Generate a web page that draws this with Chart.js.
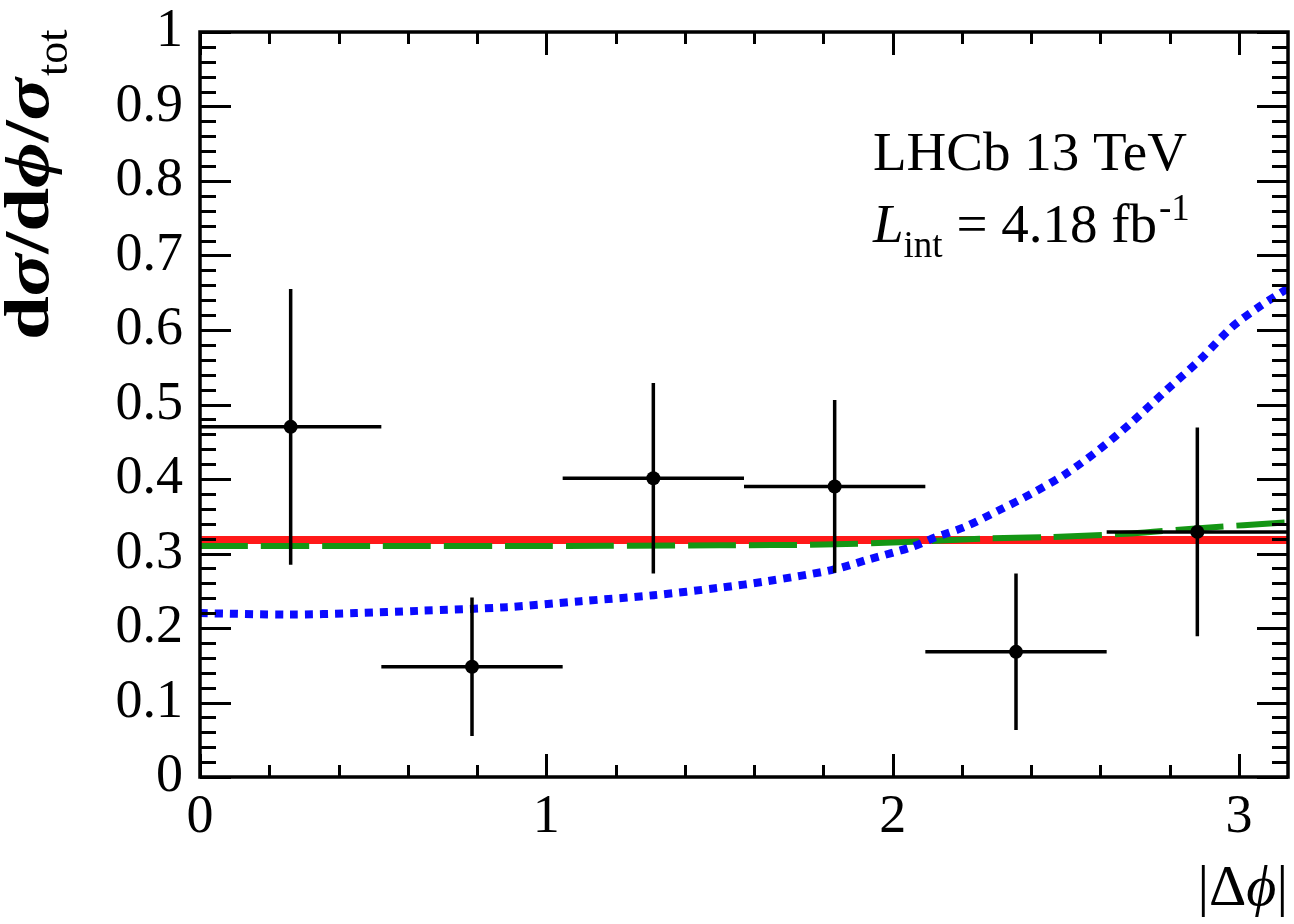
<!DOCTYPE html>
<html>
<head>
<meta charset="utf-8">
<title>dsigma/dphi</title>
<script src="https://cdn.jsdelivr.net/npm/chart.js@4.4.1/dist/chart.umd.min.js"></script>
<style>
  html, body { margin: 0; padding: 0; background: #fff; }
  #plot { display: block; }
</style>
</head>
<body>
<canvas id="plot" width="1294" height="924"></canvas>
<script>
// measured points, one per pi/6 bin in |dphi|
const binCenters = [0.2618, 0.7854, 1.3090, 1.8326, 2.3562, 2.8798];
const binHalfWidth = [0.2618, 0.2618, 0.2618, 0.2618, 0.2618, 0.2618];
const dataY = [0.470, 0.148, 0.401, 0.390, 0.168, 0.329];
const dataErr = [0.185, 0.093, 0.128, 0.116, 0.105, 0.140];

// model curves
const redX = [0, 0.8, 1.6, 2.4, 3.1416];
const redY = [0.318, 0.318, 0.318, 0.318, 0.318];

const greenX = [0, 0.5, 1.0, 1.5, 1.8, 2.02, 2.26, 2.45, 2.69, 2.885, 3.1416];
const greenY = [0.310, 0.310, 0.310, 0.311, 0.312, 0.315, 0.320, 0.322, 0.327, 0.334, 0.342];

const blueX = [0, 0.26, 0.45, 0.63, 0.886, 1.10, 1.31, 1.50, 1.64, 1.826, 1.93, 2.057, 2.125, 2.21, 2.307, 2.40, 2.50, 2.595, 2.69, 2.79, 2.885, 2.98, 3.058, 3.1416];
const blueY = [0.220, 0.218, 0.220, 0.223, 0.228, 0.236, 0.244, 0.254, 0.263, 0.278, 0.292, 0.309, 0.322, 0.336, 0.358, 0.380, 0.407, 0.439, 0.476, 0.519, 0.559, 0.604, 0.631, 0.656];

// axes
const xTicks = [0, 1, 2, 3];
const xTickLabels = ['0', '1', '2', '3'];
const yTicks = [0, 0.1, 0.2, 0.3, 0.4, 0.5, 0.6, 0.7, 0.8, 0.9, 1];
const yTickLabels = ['0', '0.1', '0.2', '0.3', '0.4', '0.5', '0.6', '0.7', '0.8', '0.9', '1'];

const SERIF = '"Liberation Serif", "Times New Roman", serif';

function toPoints(xs, ys) {
  return xs.map((x, i) => ({ x: x, y: ys[i] }));
}

// black frame with ROOT-like inward ticks on all four sides
const framePlugin = {
  id: 'frame',
  afterDraw(chart) {
    const ctx = chart.ctx;
    const a = chart.chartArea;
    const xs = chart.scales.x, ys = chart.scales.y;
    ctx.save();
    ctx.strokeStyle = '#000';
    ctx.lineWidth = 3;
    ctx.lineCap = 'butt';
    ctx.beginPath();
    // x ticks, minor every 0.2
    for (let i = 0; i <= 15; i++) {
      const v = i * 0.2;
      const px = Math.round(xs.getPixelForValue(v)) + 0.5;
      const len = (i % 5 === 0) ? 23 : 12;
      ctx.moveTo(px, a.bottom); ctx.lineTo(px, a.bottom - len);
      ctx.moveTo(px, a.top); ctx.lineTo(px, a.top + len);
    }
    // y ticks, minor every 0.02
    for (let i = 0; i <= 50; i++) {
      const v = i * 0.02;
      const py = Math.round(ys.getPixelForValue(v)) + 0.5;
      const len = (i % 5 === 0) ? 31 : 16;
      ctx.moveTo(a.left, py); ctx.lineTo(a.left + len, py);
      ctx.moveTo(a.right, py); ctx.lineTo(a.right - len, py);
    }
    ctx.stroke();
    ctx.lineWidth = 3.5;
    ctx.strokeRect(a.left, a.top, a.right - a.left, a.bottom - a.top);
    ctx.restore();
  }
};

// horizontal bin width and vertical uncertainty on each point
const errorBarPlugin = {
  id: 'errorBars',
  afterDatasetsDraw(chart) {
    const ctx = chart.ctx;
    const xs = chart.scales.x, ys = chart.scales.y;
    ctx.save();
    ctx.strokeStyle = '#000';
    ctx.lineWidth = 3.5;
    ctx.beginPath();
    binCenters.forEach((x, i) => {
      const px = xs.getPixelForValue(x);
      const py = ys.getPixelForValue(dataY[i]);
      ctx.moveTo(xs.getPixelForValue(x - binHalfWidth[i]), py);
      ctx.lineTo(xs.getPixelForValue(Math.min(x + binHalfWidth[i], Math.PI)), py);
      ctx.moveTo(px, ys.getPixelForValue(dataY[i] + dataErr[i]));
      ctx.lineTo(px, ys.getPixelForValue(dataY[i] - dataErr[i]));
    });
    ctx.stroke();
    ctx.fillStyle = '#000';
    binCenters.forEach((x, i) => {
      ctx.beginPath();
      ctx.arc(xs.getPixelForValue(x), ys.getPixelForValue(dataY[i]), 7, 0, Math.PI * 2);
      ctx.fill();
    });
    ctx.restore();
  }
};

// axis titles and the LHCb label
const labelPlugin = {
  id: 'labels',
  afterDraw(chart) {
    const ctx = chart.ctx;
    ctx.save();
    ctx.fillStyle = '#000';
    ctx.textBaseline = 'alphabetic';
    ctx.textAlign = 'left';

    // experiment label
    ctx.font = '55px ' + SERIF;
    ctx.fillText('LHCb 13 TeV', 873, 170);
    let x = 873;
    ctx.font = 'italic 55px ' + SERIF;
    ctx.fillText('L', x, 242);
    x += ctx.measureText('L').width;
    ctx.font = '37px ' + SERIF;
    ctx.fillText('int', x, 257);
    x += ctx.measureText('int').width;
    ctx.font = '55px ' + SERIF;
    const lumi = ' = 4.18 fb';
    ctx.fillText(lumi, x, 242);
    x += ctx.measureText(lumi).width;
    ctx.font = '37px ' + SERIF;
    ctx.fillText('-1', x + 2, 220);

    // y title, rotated, reading upwards
    const parts = [
      ['d', 'bold'], ['σ', 'bold italic'], ['/d', 'bold'],
      ['ϕ', 'bold italic'], ['/', 'bold'], ['σ', 'bold italic']
    ];
    const fs = 64;
    let w = 0;
    parts.forEach(p => { ctx.font = p[1] + ' ' + fs + 'px ' + SERIF; w += ctx.measureText(p[0]).width; });
    const stretch = 262 / w;
    ctx.translate(48, 340);
    ctx.rotate(-Math.PI / 2);
    let tx = 0;
    parts.forEach(p => {
      ctx.font = p[1] + ' ' + fs + 'px ' + SERIF;
      ctx.save();
      ctx.translate(tx, 0);
      ctx.scale(stretch, 1);
      ctx.fillText(p[0], 0, 0);
      ctx.restore();
      tx += ctx.measureText(p[0]).width * stretch;
    });
    ctx.font = '44px ' + SERIF;
    ctx.fillText('tot', tx + 2, 19);
    ctx.setTransform(1, 0, 0, 1, 0, 0);

    // x title, right aligned under the axis
    const xt = [['|', ''], ['Δ', ''], ['ϕ', 'italic '], ['|', '']];
    let xw = 0;
    xt.forEach(p => { ctx.font = p[1] + '58px ' + SERIF; xw += ctx.measureText(p[0]).width; });
    let cx = 1288 - xw;
    xt.forEach(p => {
      ctx.font = p[1] + '58px ' + SERIF;
      ctx.fillText(p[0], cx, 905);
      cx += ctx.measureText(p[0]).width;
    });
    ctx.restore();
  }
};

const ctx = document.getElementById('plot');

new Chart(ctx, {
  type: 'scatter',
  data: {
    datasets: [
      {
        label: 'data',
        data: toPoints(binCenters, dataY),
        pointRadius: 0,
        showLine: false,
        order: 0
      },
      {
        label: 'red',
        data: toPoints(redX, redY),
        showLine: true,
        pointRadius: 0,
        borderColor: 'rgb(255, 25, 25)',
        borderWidth: 8,
        order: 3
      },
      {
        label: 'green',
        data: toPoints(greenX, greenY),
        showLine: true,
        pointRadius: 0,
        borderColor: 'rgb(20, 150, 20)',
        borderWidth: 6,
        borderDash: [48, 13],
        tension: 0.3,
        order: 2
      },
      {
        label: 'blue',
        data: toPoints(blueX, blueY),
        showLine: true,
        pointRadius: 0,
        borderColor: 'rgb(10, 10, 255)',
        borderWidth: 8,
        borderDash: [8, 7],
        borderCapStyle: 'butt',
        tension: 0.3,
        order: 1
      }
    ]
  },
  options: {
    responsive: false,
    animation: false,
    devicePixelRatio: 1,
    layout: { padding: { top: 32, right: 6, bottom: 0, left: 0 } },
    plugins: {
      legend: { display: false },
      tooltip: { enabled: false }
    },
    scales: {
      x: {
        type: 'linear',
        min: 0,
        max: Math.PI,
        grid: { display: false, drawTicks: false },
        border: { display: false },
        afterBuildTicks: s => { s.ticks = xTicks.map(v => ({ value: v })); },
        afterFit: s => { s.height = 147; s.paddingLeft = 0; s.paddingRight = 0; },
        ticks: {
          padding: 8,
          maxRotation: 0,
          color: '#000',
          font: { family: SERIF, size: 54 },
          callback: (v) => xTickLabels[xTicks.indexOf(v)]
        }
      },
      y: {
        type: 'linear',
        min: 0,
        max: 1,
        grid: { display: false, drawTicks: false },
        border: { display: false },
        afterBuildTicks: s => { s.ticks = yTicks.map(v => ({ value: v })); },
        afterFit: s => { s.width = 200; s.paddingTop = 0; s.paddingBottom = 0; },
        ticks: {
          padding: 17,
          color: '#000',
          font: { family: SERIF, size: 54 },
          callback: (v) => yTickLabels[yTicks.indexOf(v)]
        }
      }
    }
  },
  plugins: [errorBarPlugin, framePlugin, labelPlugin]
});
</script>
</body>
</html>
